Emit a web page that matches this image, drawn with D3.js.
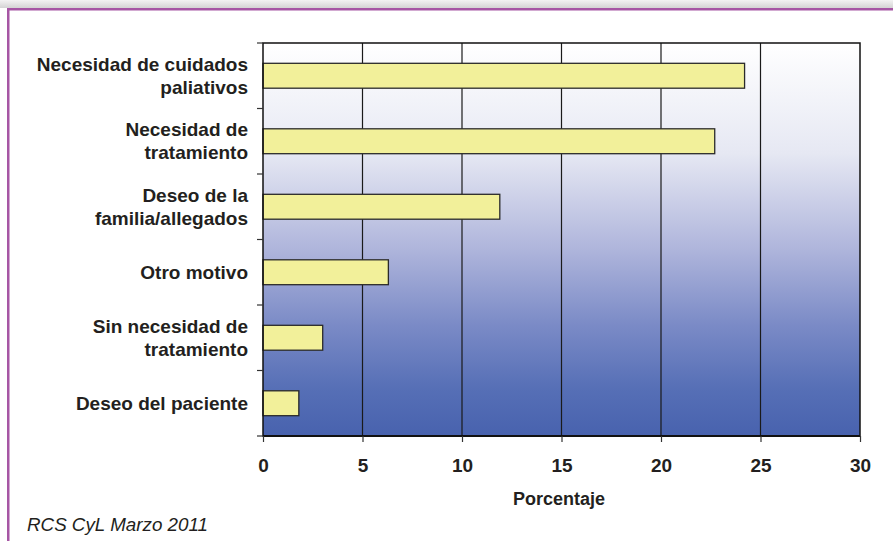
<!DOCTYPE html>
<html>
<head>
<meta charset="utf-8">
<script src="https://cdn.jsdelivr.net/npm/d3@7"></script>
<style>
  body { margin: 0; background: #fff; }
  svg { display: block; font-family: "Liberation Sans", Arial, sans-serif; }
</style>
</head>
<body>
<script>
// data
var categories = [
  ['Necesidad de cuidados', 'paliativos'],
  ['Necesidad de', 'tratamiento'],
  ['Deseo de la', 'familia/allegados'],
  ['Otro motivo'],
  ['Sin necesidad de', 'tratamiento'],
  ['Deseo del paciente']
];
var values = [24.2, 22.7, 11.9, 6.3, 3.0, 1.8];
var xTicks = [0, 5, 10, 15, 20, 25, 30];
var xTitle = 'Porcentaje';
var source = 'RCS CyL Marzo 2011';

(function() {
  var W = 893, H = 541;
  var mLeft = 263, mRight = 860, mTop = 43, mBottom = 436;

  var svg = d3.select('body').append('svg').attr('width', W).attr('height', H);
  var defs = svg.append('defs');

  var bg = defs.append('linearGradient').attr('id', 'bg').attr('x1', 0).attr('y1', 0).attr('x2', 0).attr('y2', 1);
  [[0, '#ffffff'], [0.28, '#e6e8f3'], [0.52, '#b0b6dc'], [0.72, '#7a8ac6'], [0.88, '#566fb6'], [1, '#4862ae']].forEach(function(s) {
    bg.append('stop').attr('offset', s[0]).attr('stop-color', s[1]);
  });
  var strip = defs.append('linearGradient').attr('id', 'strip').attr('x1', 0).attr('y1', 0).attr('x2', 0).attr('y2', 1);
  strip.append('stop').attr('offset', 0).attr('stop-color', '#f3f3f3');
  strip.append('stop').attr('offset', 1).attr('stop-color', '#d4d4d4');

  // page frame
  svg.append('rect').attr('x', 0).attr('y', 0).attr('width', W).attr('height', 8).style('fill', 'url(#strip)');
  svg.append('rect').attr('x', 7).attr('y', 8).attr('width', W - 7).attr('height', 2.5).style('fill', '#a656a4');
  svg.append('rect').attr('x', 7).attr('y', 8).attr('width', 2.5).attr('height', H - 8).style('fill', '#a656a4');

  var x = d3.scaleLinear().domain([0, 30]).range([mLeft, mRight]);
  var y = d3.scaleBand().domain(d3.range(categories.length)).range([mTop, mBottom]);
  var barH = y.bandwidth() * 0.38;

  svg.append('rect').attr('x', mLeft).attr('y', mTop).attr('width', mRight - mLeft).attr('height', mBottom - mTop)
    .style('fill', 'url(#bg)');

  // grid lines
  svg.selectAll('line.grid').data(xTicks.slice(1, -1)).enter().append('line').attr('class', 'grid')
    .attr('x1', function(d) { return x(d); }).attr('x2', function(d) { return x(d); })
    .attr('y1', mTop).attr('y2', mBottom).style('stroke', '#1a1a1a').style('stroke-width', 1.2);

  // bars
  svg.selectAll('rect.bar').data(values).enter().append('rect').attr('class', 'bar')
    .attr('x', x(0))
    .attr('y', function(d, i) { return y(i) + (y.bandwidth() - barH) / 2; })
    .attr('width', function(d) { return x(d) - x(0); })
    .attr('height', barH)
    .style('fill', '#f2f09a').style('stroke', '#2a2a2a').style('stroke-width', 1.3);

  // plot border
  svg.append('rect').attr('x', mLeft).attr('y', mTop).attr('width', mRight - mLeft).attr('height', mBottom - mTop)
    .style('fill', 'none').style('stroke', '#111').style('stroke-width', 1.5);
  svg.append('line').attr('x1', mLeft).attr('x2', mRight).attr('y1', mBottom).attr('y2', mBottom)
    .style('stroke', '#111').style('stroke-width', 2.2);

  // y ticks at band edges
  var yEdges = d3.range(categories.length + 1).map(function(i) { return mTop + i * y.step(); });
  svg.selectAll('line.ytick').data(yEdges).enter().append('line').attr('class', 'ytick')
    .attr('x1', mLeft - 6).attr('x2', mLeft).attr('y1', function(d) { return d; }).attr('y2', function(d) { return d; })
    .style('stroke', '#333').style('stroke-width', 1.2);

  // x axis
  var xAxis = svg.append('g').attr('transform', 'translate(0,' + mBottom + ')')
    .call(d3.axisBottom(x).tickValues(xTicks).tickSize(6).tickPadding(17));
  xAxis.select('.domain').remove();
  xAxis.selectAll('line').style('stroke', '#333').style('stroke-width', 1.2);
  xAxis.selectAll('text').style('font-size', '19px').style('font-weight', 'bold').style('fill', '#231f20');

  // category labels
  var lab = svg.selectAll('text.cat').data(categories).enter().append('text').attr('class', 'cat')
    .attr('text-anchor', 'end').style('font-size', '19px').style('font-weight', 'bold').style('fill', '#231f20');
  lab.each(function(lines, i) {
    var cy = y(i) + y.bandwidth() / 2;
    var lh = 23;
    var first = cy - (lines.length - 1) * lh / 2 + 6.5;
    d3.select(this).selectAll('tspan').data(lines).enter().append('tspan')
      .attr('x', 248).attr('y', function(d, j) { return first + j * lh; }).text(function(d) { return d; });
  });

  svg.append('text').attr('x', 559).attr('y', 505).attr('text-anchor', 'middle')
    .style('font-size', '18px').style('font-weight', 'bold').style('fill', '#231f20').text(xTitle);

  svg.append('text').attr('x', 27).attr('y', 531).style('font-size', '18.8px').style('font-style', 'italic')
    .style('fill', '#231f20').text(source);
})();
</script>
</body>
</html>
